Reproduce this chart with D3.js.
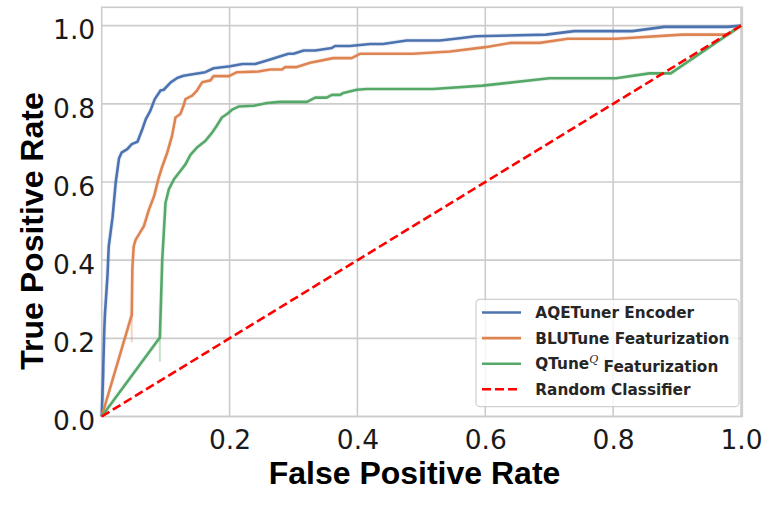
<!DOCTYPE html>
<html>
<head>
<meta charset="utf-8">
<script src="https://cdn.jsdelivr.net/npm/d3@7"></script>
<style>
    body { margin: 0; background: #fff; }
    .tick-label { font-family: "DejaVu Sans", sans-serif; font-size: 26.5px; fill: #1a1a1a; }
    .axis-label { font-family: "Liberation Sans", Arial, sans-serif; font-weight: bold; font-size: 32px; fill: #000; }
    .legend-text { font-family: "DejaVu Sans", sans-serif; font-weight: bold; font-size: 15.3px; fill: #262626; }
</style>
</head>
<body>
<div id="chart-area"></div>
<script>
// ROC curves, [fpr, tpr] pairs
const aqetuner = [
    [0, 0], [0.002, 0.1], [0.004, 0.22], [0.005, 0.26], [0.009, 0.36], [0.011, 0.435],
    [0.017, 0.51], [0.022, 0.6], [0.027, 0.66], [0.031, 0.675], [0.040, 0.684], [0.047, 0.697],
    [0.056, 0.703], [0.0635, 0.735], [0.069, 0.761], [0.076, 0.782], [0.083, 0.812], [0.092, 0.834],
    [0.097, 0.836], [0.108, 0.855], [0.118, 0.866], [0.128, 0.872], [0.147, 0.877], [0.162, 0.881],
    [0.175, 0.891], [0.201, 0.896], [0.22, 0.902], [0.24, 0.902], [0.2585, 0.911], [0.292, 0.928],
    [0.30, 0.928], [0.316, 0.9365], [0.334, 0.9365], [0.36, 0.943], [0.365, 0.948], [0.388, 0.948],
    [0.42, 0.953], [0.44, 0.953], [0.477, 0.962], [0.529, 0.962], [0.56, 0.968], [0.585, 0.973],
    [0.695, 0.977], [0.739, 0.986], [0.83, 0.986], [0.88, 0.997], [0.979, 0.997], [1, 1]
];
const blutune = [
    [0, 0], [0.047, 0.26], [0.048, 0.38], [0.050, 0.435], [0.053, 0.452], [0.066, 0.487],
    [0.074, 0.53], [0.082, 0.564], [0.089, 0.61], [0.095, 0.641], [0.1025, 0.675], [0.11, 0.718],
    [0.1154, 0.765], [0.123, 0.774], [0.128, 0.795], [0.131, 0.812], [0.1415, 0.821], [0.149, 0.834],
    [0.157, 0.855], [0.162, 0.857], [0.17, 0.860], [0.175, 0.871], [0.199, 0.871], [0.2117, 0.881],
    [0.245, 0.8826], [0.2636, 0.888], [0.282, 0.888], [0.287, 0.894], [0.305, 0.894], [0.326, 0.905],
    [0.362, 0.917], [0.391, 0.917], [0.404, 0.928], [0.487, 0.928], [0.545, 0.934], [0.60, 0.945],
    [0.64, 0.956], [0.685, 0.956], [0.729, 0.9666], [0.8045, 0.9666], [0.908, 0.977], [0.979, 0.977],
    [1, 1]
];
const qtune = [
    [0, 0], [0.091, 0.202], [0.0947, 0.401], [0.0998, 0.547], [0.105, 0.581], [0.113, 0.607],
    [0.123, 0.628], [0.131, 0.645], [0.139, 0.67], [0.149, 0.688], [0.162, 0.705], [0.173, 0.727],
    [0.18, 0.744], [0.188, 0.765], [0.196, 0.774], [0.204, 0.785], [0.214, 0.793], [0.238, 0.795],
    [0.2585, 0.802], [0.279, 0.805], [0.321, 0.805], [0.334, 0.816], [0.352, 0.816], [0.36, 0.823],
    [0.373, 0.823], [0.378, 0.828], [0.399, 0.836], [0.4145, 0.838], [0.518, 0.838], [0.596, 0.8465],
    [0.70, 0.8655], [0.8045, 0.8655], [0.8565, 0.878], [0.89, 0.878], [1, 1]
];
const randomLine = [[0, 0], [1, 1]];

// faint std-band stubs visible near the steep parts
const aqetunerBand = [[0.002, 0.04], [0.003, 0.12]];
const blutuneBand = [[0.047, 0.19], [0.047, 0.27]];
const qtuneBand = [[0.091, 0.14], [0.091, 0.21]];

const seriesNames = ["AQETuner Encoder", "BLUTune Featurization", "QTune", "Random Classifier"];
const xTicks = [0.2, 0.4, 0.6, 0.8, 1.0];
const yTicks = [0.0, 0.2, 0.4, 0.6, 0.8, 1.0];

const colors = {
    blue: "#4c72b0",
    orange: "#dd8452",
    green: "#55a868",
    red: "#ff0000",
    grid: "#cccccc"
};

const W = 781, H = 513;
const plot = {left: 101.7, right: 742.3, top: 7.3, bottom: 416.5};

const svg = d3.select("#chart-area")
    .append("svg")
    .attr("width", W)
    .attr("height", H);

// Scales
const xScale = d3.scaleLinear()
    .domain([0, 1.002])
    .range([plot.left, plot.right]);

const yScale = d3.scaleLinear()
    .domain([0, 1.047])
    .range([plot.bottom, plot.top]);

// Grid lines
svg.append("g")
    .selectAll("line")
    .data(xTicks)
    .enter()
    .append("line")
    .attr("x1", d => xScale(d))
    .attr("x2", d => xScale(d))
    .attr("y1", plot.top)
    .attr("y2", plot.bottom)
    .style("stroke", colors.grid)
    .style("stroke-width", 1.6);

svg.append("g")
    .selectAll("line")
    .data(yTicks)
    .enter()
    .append("line")
    .attr("x1", plot.left)
    .attr("x2", plot.right)
    .attr("y1", d => yScale(d))
    .attr("y2", d => yScale(d))
    .style("stroke", colors.grid)
    .style("stroke-width", 1.6);

// Frame
svg.append("rect")
    .attr("x", plot.left)
    .attr("y", plot.top)
    .attr("width", plot.right - plot.left)
    .attr("height", plot.bottom - plot.top)
    .style("fill", "none")
    .style("stroke", colors.grid)
    .style("stroke-width", 1.6);

// Axes
const xAxis = d3.axisBottom(xScale)
    .tickValues(xTicks)
    .tickSize(0)
    .tickPadding(14)
    .tickFormat(d3.format(".1f"));

svg.append("g")
    .attr("transform", `translate(0,${plot.bottom})`)
    .call(xAxis)
    .call(g => g.select(".domain").remove())
    .selectAll("text")
    .attr("class", "tick-label")
    .attr("fill", null);

const yAxis = d3.axisLeft(yScale)
    .tickValues(yTicks)
    .tickSize(0)
    .tickPadding(6.5)
    .tickFormat(d3.format(".1f"));

svg.append("g")
    .attr("transform", `translate(${plot.left},0)`)
    .call(yAxis)
    .call(g => g.select(".domain").remove())
    .selectAll("text")
    .attr("class", "tick-label")
    .attr("fill", null)
    .attr("dy", "0.5em");

// Curves
const line = d3.line()
    .x(d => xScale(d[0]))
    .y(d => yScale(d[1]));

const plotArea = svg.append("g");

[[aqetunerBand, colors.blue], [blutuneBand, colors.orange], [qtuneBand, colors.green]]
    .forEach(([band, c]) => {
        plotArea.append("path")
            .datum(band)
            .attr("d", line)
            .style("fill", "none")
            .style("stroke", c)
            .style("stroke-opacity", 0.35)
            .style("stroke-width", 2);
    });

[[aqetuner, colors.blue], [blutune, colors.orange], [qtune, colors.green]]
    .forEach(([data, c]) => {
        // soft halo standing in for the shaded band
        plotArea.append("path")
            .datum(data)
            .attr("d", line)
            .style("fill", "none")
            .style("stroke", c)
            .style("stroke-opacity", 0.12)
            .style("stroke-width", 4.5)
            .style("stroke-linejoin", "round");
        plotArea.append("path")
            .datum(data)
            .attr("d", line)
            .style("fill", "none")
            .style("stroke", c)
            .style("stroke-width", 2.6)
            .style("stroke-linejoin", "round");
    });

plotArea.append("path")
    .datum(randomLine)
    .attr("d", line)
    .style("fill", "none")
    .style("stroke", colors.red)
    .style("stroke-width", 2.6)
    .style("stroke-dasharray", "9,4");

// Axis labels
svg.append("text")
    .attr("class", "axis-label")
    .attr("x", 414.5)
    .attr("y", 484.3)
    .attr("text-anchor", "middle")
    .text("False Positive Rate");

svg.append("text")
    .attr("class", "axis-label")
    .attr("transform", "translate(43.3,231) rotate(-90)")
    .attr("text-anchor", "middle")
    .text("True Positive Rate");

// Legend
const legend = svg.append("g");
legend.append("rect")
    .attr("x", 476)
    .attr("y", 299.3)
    .attr("width", 263)
    .attr("height", 107.4)
    .attr("rx", 4)
    .style("fill", "#fff")
    .style("fill-opacity", 0.8)
    .style("stroke", "#d0d0d0")
    .style("stroke-width", 1.2);

const legendColors = [colors.blue, colors.orange, colors.green, colors.red];
seriesNames.forEach((name, i) => {
    const y = 312.5 + i * 25.6;
    legend.append("line")
        .attr("x1", 482)
        .attr("x2", 521)
        .attr("y1", y)
        .attr("y2", y)
        .style("stroke", legendColors[i])
        .style("stroke-width", 2.6)
        .style("stroke-dasharray", i === 3 ? "9,4" : null);

    const t = legend.append("text")
        .attr("class", "legend-text")
        .attr("x", 535.3)
        .attr("y", y)
        .attr("dy", "0.36em");
    if (name === "QTune") {
        t.append("tspan").text("QTune");
        t.append("tspan")
            .attr("dy", "-0.55em")
            .style("font-size", "11px")
            .style("font-style", "italic")
            .style("font-weight", "normal")
            .style("font-family", "'DejaVu Serif', serif")
            .text("Q");
        t.append("tspan")
            .attr("dy", "0.55em")
            .text(" Featurization");
    } else {
        t.text(name);
    }
});
</script>
</body>
</html>
